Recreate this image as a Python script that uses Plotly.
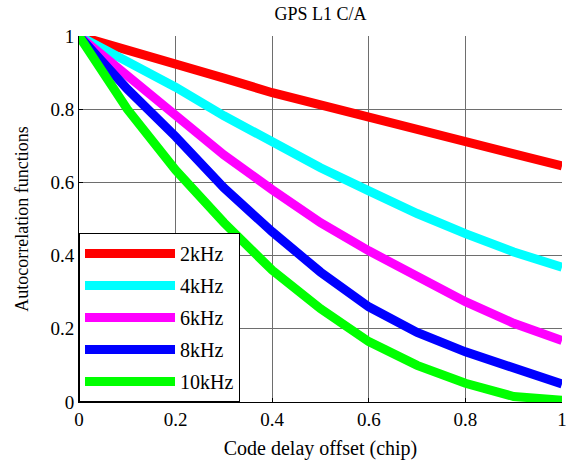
import plotly.graph_objects as go

# code delay offset (chip)
delay = [0, 0.1, 0.2, 0.3, 0.4, 0.5, 0.6, 0.7, 0.8, 0.9, 1.0]

acf_2k = [1.0, 0.963, 0.925, 0.885, 0.845, 0.812, 0.782, 0.748, 0.714, 0.680, 0.645]
acf_4k = [1.0, 0.930, 0.860, 0.782, 0.708, 0.640, 0.577, 0.515, 0.460, 0.410, 0.368]
acf_6k = [1.0, 0.890, 0.783, 0.675, 0.580, 0.490, 0.413, 0.340, 0.274, 0.215, 0.168]
acf_8k = [1.0, 0.855, 0.725, 0.585, 0.465, 0.355, 0.260, 0.190, 0.137, 0.090, 0.049]
acf_10k = [1.0, 0.800, 0.634, 0.490, 0.360, 0.255, 0.165, 0.100, 0.051, 0.015, 0.005]

names = ['2kHz', '4kHz', '6kHz', '8kHz', '10kHz']
colors = ['#ff0000', '#00ffff', '#ff00ff', '#0000ff', '#00ff00']
series = [acf_2k, acf_4k, acf_6k, acf_8k, acf_10k]

serif = 'Liberation Serif'

fig = go.Figure()

for i in range(len(series)):
    fig.add_trace(
        go.Scatter(
            x=delay,
            y=series[i],
            mode='lines',
            line=dict(color=colors[i], width=9),
            name=names[i],
            legendgroup=names[i]
        )
    )

axis_style = dict(
    range=[0, 1],
    tickvals=[0, 0.2, 0.4, 0.6, 0.8, 1],
    ticktext=['0', '0.2', '0.4', '0.6', '0.8', '1'],
    ticks='inside',
    ticklen=4,
    tickcolor='black',
    showline=True,
    linecolor='black',
    linewidth=1,
    showgrid=True,
    gridcolor='#6e6e6e',
    gridwidth=1,
    zeroline=False,
    automargin=False,
    ticklabeloverflow='allow',
    tickfont=dict(family=serif, size=19, color='black'),
)

fig.update_xaxes(
    **axis_style,
    title=dict(text='Code delay offset (chip)', font=dict(family=serif, size=20, color='black'), standoff=12)
)
fig.update_yaxes(
    **axis_style,
    title=dict(text='Autocorrelation functions', font=dict(family=serif, size=18, color='black'), standoff=17)
)

fig.update_layout(
    width=568,
    height=466,
    margin=dict(l=79, r=6, t=36, b=64),
    plot_bgcolor='#FFFFFF',
    paper_bgcolor='#FFFFFF',
    font=dict(family=serif, color='black'),
    title=dict(
        text='GPS L1 C/A',
        font=dict(family=serif, size=18, color='black'),
        x=0.5,
        xref='paper',
        y=1 - 14 / 466,
        yref='container',
        yanchor='middle'
    ),
    legend=dict(
        x=0,
        y=0,
        xanchor='left',
        yanchor='bottom',
        bgcolor='white',
        bordercolor='black',
        borderwidth=1,
        font=dict(family=serif, size=20, color='black'),
        itemwidth=90,
        tracegroupgap=3
    ),
    showlegend=True
)

# page body has a default 8px margin, drop it so the figure sits at 0,0
fig.write_html(
    "out.html",
    config={'displayModeBar': False},
    post_script="document.body.style.margin='0';"
)
